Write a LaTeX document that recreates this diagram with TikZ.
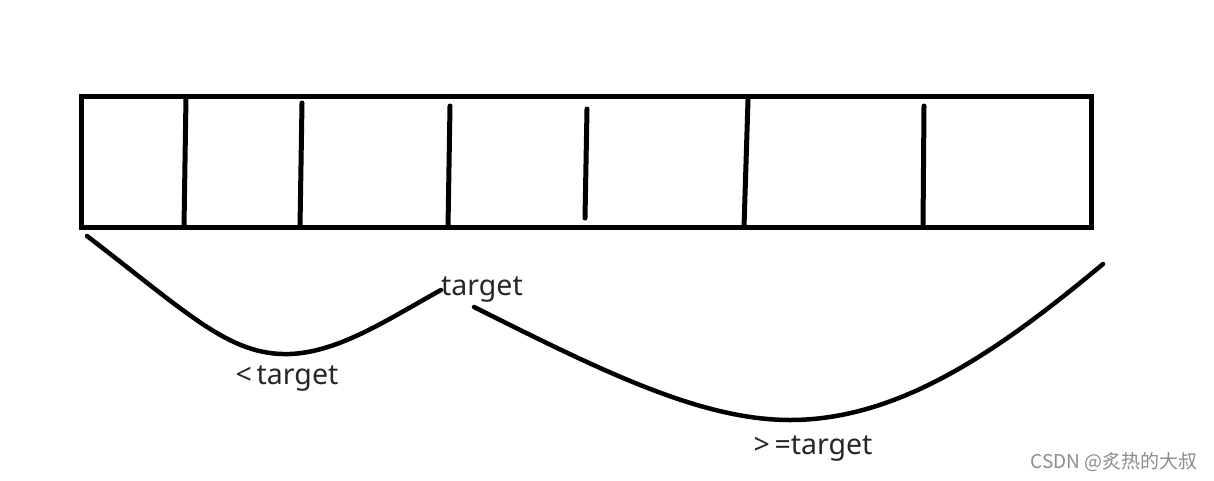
\documentclass[tikz,border=0pt]{standalone}
\usepackage{fontspec}
\setmainfont{Noto Sans}
\newfontfamily\cjk{Noto Sans CJK SC}
\usepackage{tikz}

\begin{document}
\begin{tikzpicture}[x=1pt,y=-1pt]
\tikzset{
    stroke/.style={line width=5pt, line join=miter},
    curve/.style={line width=4.5pt, line cap=round},
    label/.style={font=\fontsize{28.5}{32}\selectfont, inner sep=0pt, text=black!85},
    watermark/.style={font=\cjk\fontsize{19}{21}\selectfont, inner sep=0pt, text=black!45},
}
\useasboundingbox (0,0) rectangle (1214,480);

% The array
\draw[stroke] (81,96) rectangle (1091,227);

% Hand drawn dividers
\foreach \a/\b/\c/\d in {186/97/184/227, 302/103/300/227, 450/106/448/227,
                         587/109/585/218, 748/100/744/227, 924/106/923/227}{
    \draw[stroke, line cap=round] (\a,\b) -- (\c,\d);
}

% Labels
\node[label] (mid) at (482,290) {target};
\node[label] (less) at (287,379) {<\,target};
\node[label] (more) at (813,449) {>\,=target};
\node[watermark, anchor=east] (sign) at (1198,462) {CSDN @炙热的大叔};

% Curve ends
\coordinate (lstart) at (87,236);
\coordinate (lend) at (441,290);
\coordinate (rstart) at (474,307);
\coordinate (rend) at (1103,264);

% Braces under the array
\draw[curve] (lstart) .. controls (190,315) and (230,356) .. (290,354)
    .. controls (340,352) and (390,318) .. (lend);
\draw[curve] (rstart) .. controls (600,370) and (700,420) .. (790,420)
    .. controls (900,420) and (1000,350) .. (rend);

\end{tikzpicture}
\end{document}
